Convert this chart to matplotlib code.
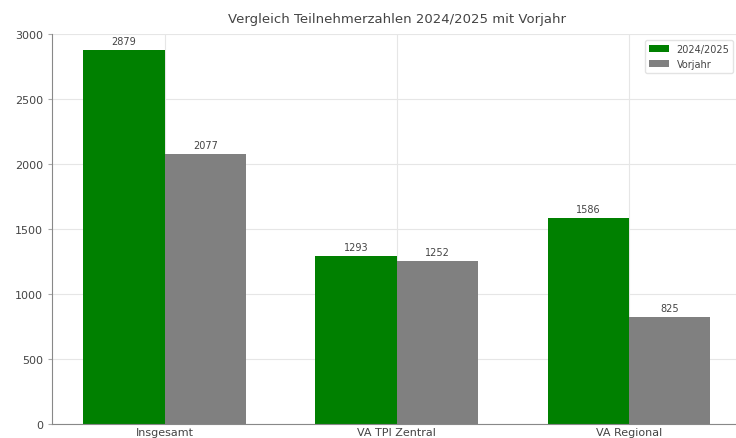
import numpy as np
import matplotlib
matplotlib.use("Agg")
import matplotlib.pyplot as plt

categories = ["Insgesamt", "VA TPI Zentral", "VA Regional"]
current = [2879, 1293, 1586]
previous = [2077, 1252, 825]
series_labels = ["2024/2025", "Vorjahr"]

text_color = "#444444"
plt.rcParams['font.family'] = ['DejaVu Sans']

fig = plt.figure(figsize=(7.36, 4.39), dpi=100)
# plot area runs a little past the right edge, like the reference crop
ax = fig.add_axes([52 / 736, 14 / 439, 689.5 / 736, 390 / 439])

x = np.arange(len(categories))
width = 0.35
b1 = ax.bar(x - width / 2, current, width, label=series_labels[0], color="green", zorder=2)
b2 = ax.bar(x + width / 2, previous, width, label=series_labels[1], color="grey", zorder=2)
ax.bar_label(b1, padding=3, fontsize=7, color=text_color)
ax.bar_label(b2, padding=3, fontsize=7, color=text_color)

ax.set_ylim(0, 3000)
ax.set_xticks(x, categories)
ax.set_yticks(np.arange(0, 3001, 500))
ax.tick_params(labelsize=8, colors=text_color, length=3)
ax.tick_params(axis="y", color="#aaaaaa")
ax.tick_params(axis="x", length=0, pad=2)
ax.grid(True, color="#e6e6e6", linewidth=0.8, zorder=0)
for side in ["top", "right"]:
    ax.spines[side].set_visible(False)
for side in ["left", "bottom"]:
    ax.spines[side].set_color("#888888")

ax.set_title("Vergleich Teilnehmerzahlen 2024/2025 mit Vorjahr", fontsize=9.5, color=text_color, pad=9)
ax.legend(loc="upper right", fontsize=7, frameon=True, edgecolor="#dddddd",
          labelcolor=text_color, bbox_to_anchor=(0.995, 0.997))

fig.savefig("out.png", dpi=100)
